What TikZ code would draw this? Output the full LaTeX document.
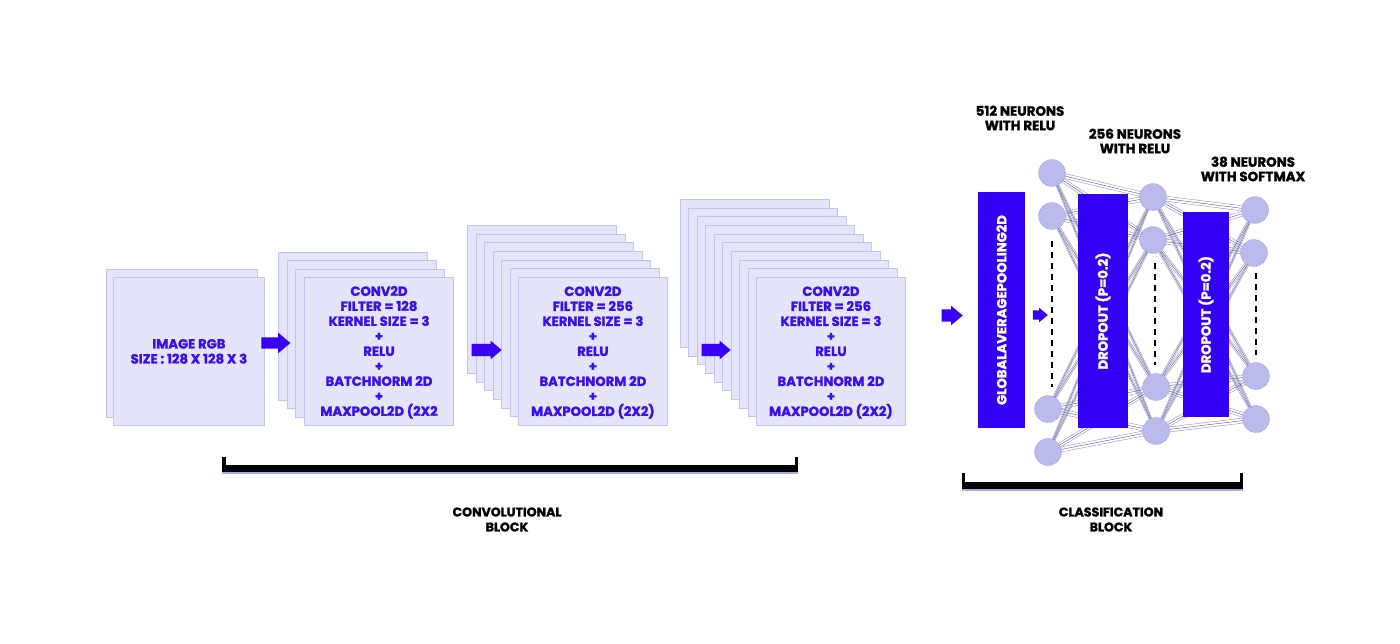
\documentclass[tikz,border=0pt]{standalone}
\usepackage{fontspec}
\setmainfont{Poppins}[BoldFeatures={FakeBold=1.6}]
\usetikzlibrary{shapes.arrows}
\definecolor{txtblue}{RGB}{58,16,240}
\definecolor{arrblue}{RGB}{56,0,245}
\definecolor{sqfill}{RGB}{228,228,251}
\definecolor{sqdraw}{RGB}{196,196,240}
\definecolor{neuronfill}{RGB}{186,186,236}
\definecolor{neuronedge}{RGB}{140,140,228}
\definecolor{barblue}{RGB}{52,0,245}
\definecolor{edgelav}{RGB}{170,170,230}
\pgfdeclarelayer{bg}
\pgfdeclarelayer{paper}
\pgfsetlayers{paper,bg,main}
\tikzset{
  sq/.style={rectangle, draw=sqdraw, fill=sqfill, line width=0.8pt, minimum width=149pt, minimum height=148pt, inner sep=0pt, anchor=north west},
  convtxt/.style={text=txtblue, align=center, font=\fontsize{13.2}{15}\selectfont\bfseries},
  blockarrow/.style={single arrow, fill=arrblue, draw=none, inner xsep=0pt, inner ysep=6pt, single arrow head extend=3pt, single arrow tip angle=80, single arrow head indent=0pt},
  barbox/.style={rectangle, fill=barblue, draw=none, rotate=90, inner sep=0pt, text=white, font=\fontsize{13.2}{14}\selectfont\bfseries},
  neuron/.style={circle, fill=neuronfill, draw=neuronedge, densely dotted, line width=0.6pt, minimum size=27pt, inner sep=0pt},
  dashline/.style={draw=black, line width=1.3pt, dash pattern=on 6pt off 5pt},
  edgeg/.style={draw=black!60, line width=0.45pt},
  edgel/.style={draw=edgelav, line width=0.6pt},
  blacklabel/.style={text=black, align=center, font=\fontsize{13.4}{14.5}\selectfont\bfseries},
  blocklabel/.style={text=black, align=center, font=\fontsize{12.6}{15}\selectfont\bfseries},
}
\begin{document}
\begin{tikzpicture}[x=1pt,y=-1pt]
\useasboundingbox (0,0) rectangle (1400,643);
\begin{pgfonlayer}{paper}
\fill[white] (0,0) rectangle (1400,643);
\end{pgfonlayer}

% image RGB
\node[sq, minimum width=151pt] (img0) at (106,269) {};
\node[sq, minimum width=151pt] (img1) at (113,277) {};
\node[convtxt] (imgtxt) at (img1.center) {IMAGE RGB\\SIZE : 128 X 128 X 3};

% conv block 1
\foreach \i in {0,...,3} \node[sq] (cA\i) at ({278+8.7*\i},{252+8.3*\i}) {};
\node[convtxt] (tA) at ([yshift=-1pt]cA3.center) {CONV2D\\FILTER = 128\\KERNEL SIZE = 3\\+\\RELU\\+\\BATCHNORM 2D\\+\\MAXPOOL2D (2X2};

% conv block 2
\foreach \i in {0,...,6} \node[sq] (cB\i) at ({467+8.5*\i},{225+8.67*\i}) {};
\node[convtxt] (tB) at ([yshift=-1pt]cB6.center) {CONV2D\\FILTER = 256\\KERNEL SIZE = 3\\+\\RELU\\+\\BATCHNORM 2D\\+\\MAXPOOL2D (2X2)};

% conv block 3
\foreach \i in {0,...,9} \node[sq] (cC\i) at ({680+8.45*\i},{199+8.67*\i}) {};
\node[convtxt] (tC) at ([yshift=-1pt]cC9.center) {CONV2D\\FILTER = 256\\KERNEL SIZE = 3\\+\\RELU\\+\\BATCHNORM 2D\\+\\MAXPOOL2D (2X2)};

% arrows
\node[blockarrow, minimum height=29pt, inner ysep=5.5pt, single arrow head extend=4.5pt] (ar1) at (272.5,343) {};
\node[blockarrow, minimum height=30pt] (ar2) at (483,350) {};
\node[blockarrow, minimum height=29pt] (ar3) at (712.5,350) {};
\node[blockarrow, minimum height=21pt, inner ysep=6pt, single arrow head extend=3.5pt] (ar4) at (948.5,315.5) {};
\node[blockarrow, minimum height=15pt, inner ysep=4.5pt, single arrow head extend=2.5pt] (ar5) at (1037.5,315) {};

% bars
\node[barbox, minimum width=236pt, minimum height=47pt] (gap) at (1001.5,310) {GLOBALAVERAGEPOOLING2D};
\node[barbox, minimum width=234pt, minimum height=50pt] (drop1) at (1103,311) {DROPOUT (P=0.2)};
\node[barbox, minimum width=205pt, minimum height=46pt] (drop2) at (1206,314.5) {DROPOUT (P=0.2)};

% neurons
\node[neuron] (n1a) at (1052,173) {};
\node[neuron] (n1b) at (1052,216) {};
\node[neuron] (n1c) at (1048,409) {};
\node[neuron] (n1d) at (1048,452) {};
\node[neuron] (n2a) at (1153,197) {};
\node[neuron] (n2b) at (1153,240) {};
\node[neuron] (n2c) at (1156,387) {};
\node[neuron] (n2d) at (1156,431) {};
\node[neuron] (n3a) at (1255,210) {};
\node[neuron] (n3b) at (1254,253) {};
\node[neuron] (n3c) at (1256,376) {};
\node[neuron] (n3d) at (1256,419) {};

\begin{pgfonlayer}{bg}
\foreach \a in {n1a,n1b,n1c,n1d} \foreach \b in {n2a,n2b,n2c,n2d} {
  \draw[edgel] ([yshift=2.5pt]\a.center) -- ([yshift=2.5pt]\b.center);
  \draw[edgeg] (\a.center) -- (\b.center);
  \draw[edgel] ([yshift=-2.5pt]\a.center) -- ([yshift=-2.5pt]\b.center);
}
\foreach \a in {n2a,n2b,n2c,n2d} \foreach \b in {n3a,n3b,n3c,n3d} {
  \draw[edgel] ([yshift=2.5pt]\a.center) -- ([yshift=2.5pt]\b.center);
  \draw[edgeg] (\a.center) -- (\b.center);
  \draw[edgel] ([yshift=-2.5pt]\a.center) -- ([yshift=-2.5pt]\b.center);
}
\end{pgfonlayer}

% dashed lines
\coordinate (d1t) at (1052,241); \coordinate (d1b) at (1052,387);
\coordinate (d2t) at (1155,263); \coordinate (d2b) at (1155,365);
\coordinate (d3t) at (1256,273); \coordinate (d3b) at (1256,355);
\draw[dashline] (d1t) -- (d1b);
\draw[dashline] (d2t) -- (d2b);
\draw[dashline] (d3t) -- (d3b);

% neuron labels
\node[blacklabel] (l512) at (1020,118) {512 NEURONS\\WITH RELU};
\node[blacklabel] (l256) at (1135,141) {256 NEURONS\\WITH RELU};
\node[blacklabel] (l38) at (1253,169) {38 NEURONS\\WITH SOFTMAX};

% brackets
\fill[edgelav] (222,472) rectangle (798,474);
\fill[black] (222,465) rectangle (798,472);
\fill[black] (222,457) rectangle (225.5,472);
\fill[black] (794.5,457) rectangle (798,472);
\fill[edgelav] (962,489) rectangle (1243,491);
\fill[black] (962,482) rectangle (1243,489);
\fill[black] (962,473) rectangle (965,489);
\fill[black] (1240,473) rectangle (1243,489);

\node[blocklabel] (lconv) at (507,519.5) {CONVOLUTIONAL\\BLOCK};
\node[blocklabel] (lcls) at (1111,519.5) {CLASSIFICATION\\BLOCK};
\end{tikzpicture}
\end{document}
